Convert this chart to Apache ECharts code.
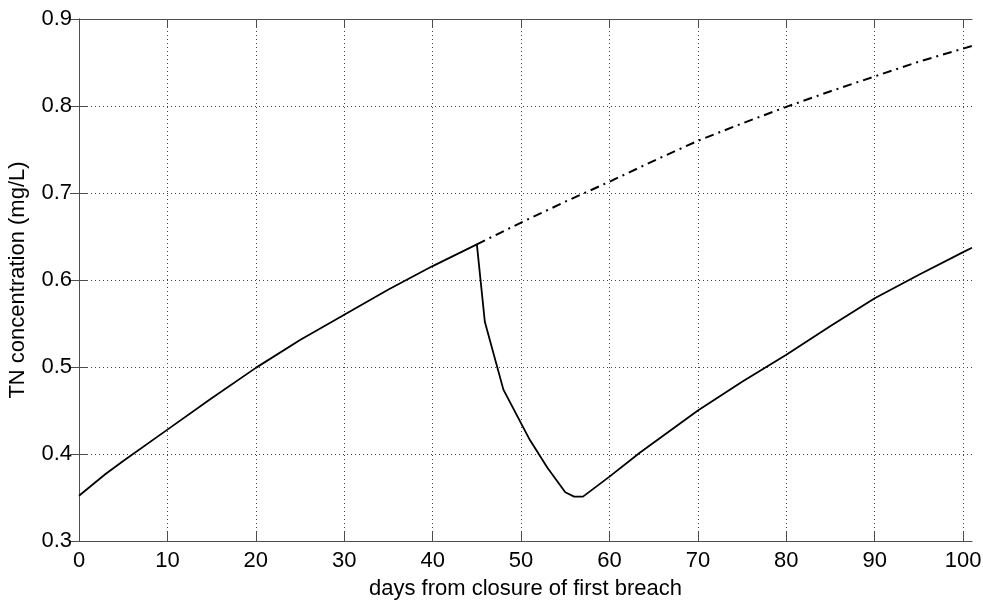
<!DOCTYPE html>
<html>
<head>
<meta charset="utf-8">
<script src="https://cdn.jsdelivr.net/npm/echarts@6/dist/echarts.min.js"></script>
<style>
html,body{margin:0;padding:0;background:#fff;}
#chart{width:983px;height:601px;}
</style>
</head>
<body>
<div id="chart"></div>
<script>
// Solid line: TN concentration with breach event
const solidDays = [0, 3, 5, 10, 15, 20, 25, 30, 35, 40, 45, 45.9, 48, 51, 53, 55, 56, 57, 60, 63.5, 70, 75, 80, 85, 90, 95, 100, 101];
const solidTN   = [0.352, 0.377, 0.392, 0.428, 0.464, 0.499, 0.531, 0.560, 0.589, 0.616, 0.641, 0.552, 0.474, 0.416, 0.384, 0.356, 0.351, 0.351, 0.374, 0.402, 0.450, 0.483, 0.514, 0.547, 0.579, 0.606, 0.632, 0.637];
// Dash-dot line: without breach
const dashDays = [45, 50, 55, 60, 65, 70, 75, 80, 85, 90, 95, 101];
const dashTN   = [0.641, 0.666, 0.690, 0.713, 0.737, 0.760, 0.780, 0.799, 0.817, 0.834, 0.851, 0.869];

const xTicks = [0, 10, 20, 30, 40, 50, 60, 70, 80, 90, 100];
const yTicks = [0.3, 0.4, 0.5, 0.6, 0.7, 0.8, 0.9];
const xLabel = 'days from closure of first breach';
const yLabel = 'TN concentration (mg/L)';

const font = 'Liberation Sans, Arial, sans-serif';
const fs = 22;
const axisCol = '#4d4d4d';

function zip(a, b) { return a.map((v, i) => [v, b[i]]); }

const chart = echarts.init(document.getElementById('chart'));
const baseX = {
  type: 'value', min: 0, max: 101, interval: 10,
  axisLine: { show: true, lineStyle: { color: axisCol, width: 1 } },
  axisTick: { show: true, inside: true, length: 9, customValues: xTicks, lineStyle: { color: axisCol } },
  splitLine: { show: false },
  axisLabel: { show: false }
};
const baseY = {
  type: 'value', min: 0.3, max: 0.9, interval: 0.1,
  axisLine: { show: true, lineStyle: { color: axisCol, width: 1 } },
  axisTick: { show: true, inside: true, length: 9, lineStyle: { color: axisCol } },
  splitLine: { show: false },
  axisLabel: { show: false }
};

chart.setOption({
  animation: false,
  backgroundColor: '#fff',
  grid: { left: 79, right: 11, top: 19, bottom: 60, containLabel: false, outerBoundsMode: 'none' },
  xAxis: [
    Object.assign({}, baseX, {
      position: 'bottom',
      name: xLabel, nameLocation: 'middle', nameGap: 37,
      nameTextStyle: { color: '#000', fontFamily: font, fontSize: fs },
      splitLine: { show: true, lineStyle: { color: '#444', type: [1, 3], width: 1 } },
      axisLabel: {
        show: true, color: '#000', fontFamily: font, fontSize: fs, margin: 9,
        customValues: xTicks,
        formatter: v => xTicks.includes(v) ? String(v) : ''
      }
    }),
    Object.assign({}, baseX, { position: 'top' })
  ],
  yAxis: [
    Object.assign({}, baseY, {
      position: 'left',
      name: yLabel, nameLocation: 'middle', nameGap: 50,
      nameTextStyle: { color: '#000', fontFamily: font, fontSize: fs },
      splitLine: { show: true, lineStyle: { color: '#444', type: [1, 3], width: 1 } },
      axisLabel: {
        show: true, color: '#000', fontFamily: font, fontSize: fs, margin: 7,
        formatter: v => {
          const t = yTicks.find(y => Math.abs(y - v) < 1e-6);
          return t !== undefined ? t.toFixed(1) : '';
        }
      }
    }),
    Object.assign({}, baseY, { position: 'right' })
  ],
  series: [
    {
      type: 'line', xAxisIndex: 0, yAxisIndex: 0,
      data: zip(solidDays, solidTN),
      showSymbol: false, symbol: 'none',
      lineStyle: { color: '#000', width: 1.8 }
    },
    {
      type: 'line', xAxisIndex: 0, yAxisIndex: 0,
      data: zip(dashDays, dashTN),
      showSymbol: false, symbol: 'none',
      lineStyle: { color: '#000', width: 2, type: [9, 5, 2, 5] }
    }
  ]
});
</script>
</body>
</html>
